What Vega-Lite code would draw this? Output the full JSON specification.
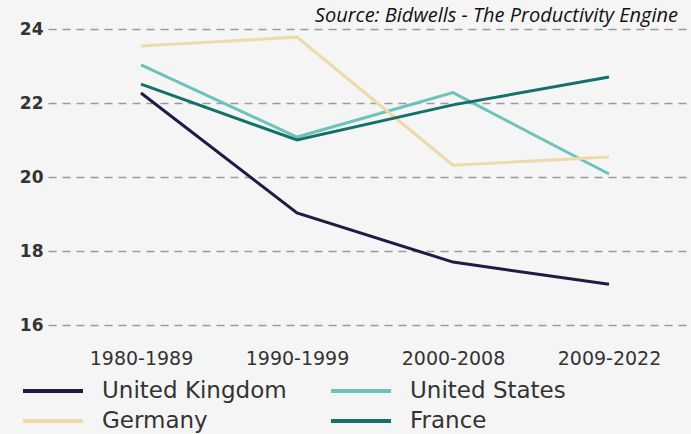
{
  "$schema": "https://vega.github.io/schema/vega-lite/v6.json",
  "autosize": "none",
  "width": 654,
  "height": 296,
  "padding": {"left": 48, "top": 29, "right": 0, "bottom": 109},
  "background": "#f5f5f5",
  "title": {
    "text": "Source: Bidwells - The Productivity Engine",
    "anchor": "end",
    "frame": "group",
    "dx": -24,
    "dy": 28,
    "offset": 2,
    "baseline": "bottom",
    "font": "Open Sans",
    "fontStyle": "italic",
    "fontWeight": "normal",
    "fontSize": 20,
    "color": "#111111"
  },
  "config": {
    "view": {"stroke": null},
    "font": "DejaVu Sans"
  },
  "data": {
    "values": [
      {"period": "1980-1989", "country": "United Kingdom", "value": 22.27},
      {"period": "1990-1999", "country": "United Kingdom", "value": 19.03},
      {"period": "2000-2008", "country": "United Kingdom", "value": 17.7},
      {"period": "2009-2022", "country": "United Kingdom", "value": 17.1},
      {"period": "1980-1989", "country": "United States", "value": 23.03},
      {"period": "1990-1999", "country": "United States", "value": 21.08},
      {"period": "2000-2008", "country": "United States", "value": 22.28},
      {"period": "2009-2022", "country": "United States", "value": 20.08},
      {"period": "1980-1989", "country": "Germany", "value": 23.54},
      {"period": "1990-1999", "country": "Germany", "value": 23.78},
      {"period": "2000-2008", "country": "Germany", "value": 20.32},
      {"period": "2009-2022", "country": "Germany", "value": 20.54},
      {"period": "1980-1989", "country": "France", "value": 22.51},
      {"period": "1990-1999", "country": "France", "value": 21.0},
      {"period": "2000-2008", "country": "France", "value": 21.95},
      {"period": "2009-2022", "country": "France", "value": 22.7}
    ]
  },
  "mark": {"type": "line", "strokeWidth": 3},
  "encoding": {
    "x": {
      "field": "period",
      "type": "ordinal",
      "scale": {"type": "point", "padding": 0.596},
      "axis": {
        "title": null,
        "domain": false,
        "ticks": false,
        "labelAngle": 0,
        "labelPadding": 24,
        "labelFontSize": 19,
        "labelColor": "#333333",
        "labelFont": "DejaVu Sans"
      }
    },
    "y": {
      "field": "value",
      "type": "quantitative",
      "scale": {"domain": [16, 24], "nice": false, "zero": false},
      "axis": {
        "title": null,
        "values": [16, 18, 20, 22, 24],
        "domain": false,
        "ticks": false,
        "labelPadding": 5,
        "labelFontSize": 17,
        "labelFontWeight": "bold",
        "labelFont": "DejaVu Sans",
        "labelColor": "#333333",
        "grid": true,
        "gridColor": "#9a9a9a",
        "gridDash": [8, 6],
        "gridWidth": 1.5
      }
    },
    "color": {
      "field": "country",
      "type": "nominal",
      "scale": {
        "domain": ["United Kingdom", "Germany", "United States", "France"],
        "range": ["#1e1c45", "#ecdba8", "#6cc3bb", "#14716a"]
      },
      "legend": {
        "title": null,
        "orient": "none",
        "legendX": -27,
        "legendY": 350,
        "columns": 2,
        "columnPadding": 36,
        "rowPadding": 6,
        "symbolType": "M-1,0H5",
        "symbolSize": 400,
        "symbolStrokeWidth": 4,
        "symbolOffset": 0,
        "labelOffset": 57,
        "labelLimit": 300,
        "labelFontSize": 23,
        "labelColor": "#333333",
        "labelFont": "DejaVu Sans"
      }
    }
  }
}
